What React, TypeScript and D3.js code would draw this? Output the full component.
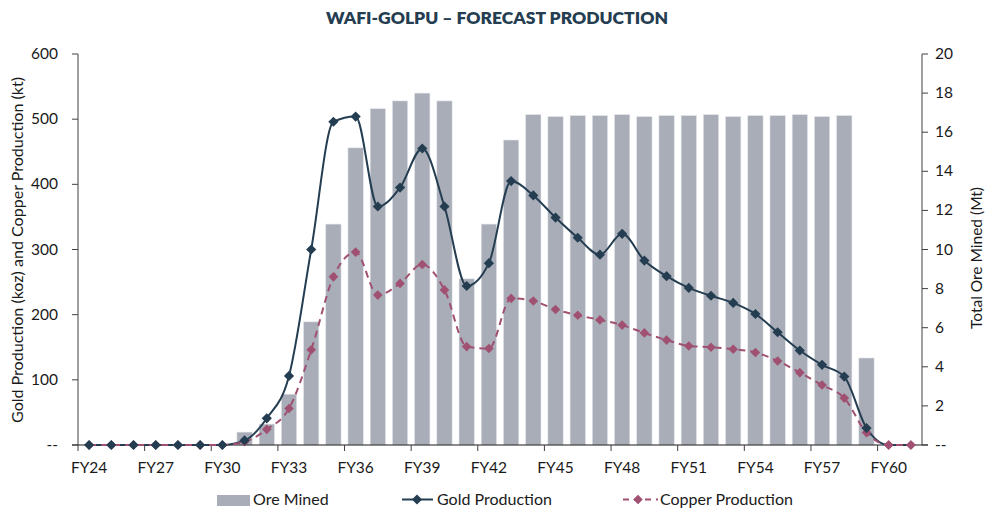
import React from "react";
import * as d3 from "d3";

const categories: string[] = Array.from({ length: 38 }, (_, i) => `FY${24 + i}`);

const oreMined: number[] = [
  0, 0, 0, 0, 0, 0, 0, 0.66, 1.07, 2.6, 6.3, 11.3, 15.2, 17.2, 17.6, 18.0, 17.6, 8.5, 11.3, 15.6,
  16.9, 16.8, 16.85, 16.85, 16.9, 16.8, 16.85, 16.85, 16.9, 16.8, 16.85, 16.85, 16.9, 16.8, 16.85, 4.45, 0, 0,
];

const goldProduction: number[] = [
  0, 0, 0, 0, 0, 0, 0, 7, 41, 106, 300, 496, 504, 366, 395, 455, 366, 244, 279, 405,
  383, 349, 318, 292, 324, 283, 259, 241, 229, 218, 201, 173, 145, 123, 105, 26, 0, 0,
];

const copperProduction: number[] = [
  0, 0, 0, 0, 0, 0, 0, 5, 24, 56, 146, 258, 296, 230, 248, 277, 238, 151, 148, 225,
  221, 208, 199, 192, 184, 172, 161, 152, 150, 147, 142, 129, 111, 92, 72, 19, 0, 0,
];

const leftTicks: number[] = [0, 100, 200, 300, 400, 500, 600];
const rightTicks: number[] = [0, 2, 4, 6, 8, 10, 12, 14, 16, 18, 20];

const FONT = "Lato, 'Open Sans', 'Noto Sans', sans-serif";
const GOLD = "#243d51";
const COPPER = "#a05172";
const BAR = "#a8adb8";
const TEXT = "#1a1a1a";

export default function App() {
  const W = 985;
  const H = 510;
  const left = 78;
  const right = 922;
  const top = 54;
  const bottom = 445;

  const x = d3.scaleBand<string>().domain(categories).range([left, right]).paddingInner(0.31).paddingOuter(0.155);
  const step = x.step();
  const yL = d3.scaleLinear().domain([0, 600]).range([bottom, top]);
  const yR = d3.scaleLinear().domain([0, 20]).range([bottom, top]);
  const cx = (i: number) => (x(categories[i]) as number) + x.bandwidth() / 2;

  const goldLine = d3
    .line<number>()
    .x((_, i) => cx(i))
    .y((d) => yL(d))
    .curve(d3.curveMonotoneX);
  const copperLine = d3
    .line<number>()
    .x((_, i) => cx(i))
    .y((d) => yL(d))
    .curve(d3.curveMonotoneX);

  const diamond = d3.symbol(d3.symbolSquare, 52)() as string;
  const diamondSmall = d3.symbol(d3.symbolSquare, 46)() as string;

  const tickIdx = categories.map((_, i) => i).filter((i) => i % 3 === 0);
  const boundary = (i: number) => (x(categories[i]) as number) - (step - x.bandwidth()) / 2;

  return (
    <svg width={W} height={H} style={{ position: "absolute", left: 0, top: 0, background: "#fff" }} fontFamily={FONT}>
      <text x={497} y={24} textAnchor="middle" fontSize={17} fontWeight={800} fill={GOLD} textLength={342} lengthAdjust="spacingAndGlyphs">
        WAFI-GOLPU – FORECAST PRODUCTION
      </text>

      {/* bars */}
      {oreMined.map((v, i) =>
        v > 0 ? (
          <rect key={"b" + i} x={x(categories[i])} y={yR(v)} width={x.bandwidth()} height={yR(0) - yR(v)} fill={BAR} stroke="#e3e5ea" strokeWidth={0.6} />
        ) : null
      )}

      {/* axes */}
      <line x1={left} x2={left} y1={top} y2={bottom} stroke="#404040" strokeWidth={1} />
      <line x1={right} x2={right} y1={top} y2={bottom} stroke="#404040" strokeWidth={1} />
      <line x1={left - 6} x2={right + 6} y1={bottom} y2={bottom} stroke="#1a1a1a" strokeWidth={1.2} />

      {leftTicks.map((t) => (
        <g key={"lt" + t}>
          <line x1={left - 6} x2={left} y1={yL(t)} y2={yL(t)} stroke="#404040" />
          <text x={left - 20} y={yL(t) + 5} textAnchor="end" fontSize={15.5} fill={TEXT}>
            {t === 0 ? "--" : t}
          </text>
        </g>
      ))}
      {rightTicks.map((t) => (
        <g key={"rt" + t}>
          <line x1={right} x2={right + 6} y1={yR(t)} y2={yR(t)} stroke="#404040" />
          <text x={right + 13} y={yR(t) + 5} textAnchor="start" fontSize={15.5} fill={TEXT}>
            {t === 0 ? "--" : t}
          </text>
        </g>
      ))}

      {tickIdx.map((i) => (
        <g key={"xt" + i}>
          <line x1={boundary(i)} x2={boundary(i)} y1={bottom} y2={bottom + 6} stroke="#404040" />
          <text x={cx(i)} y={473} textAnchor="middle" fontSize={15.5} fill={TEXT}>
            {categories[i]}
          </text>
        </g>
      ))}

      <text transform={`translate(23,250) rotate(-90)`} textAnchor="middle" fontSize={15} fill={TEXT} textLength={346} lengthAdjust="spacingAndGlyphs">
        Gold Production (koz) and Copper Production (kt)
      </text>
      <text transform={`translate(982,258) rotate(-90)`} textAnchor="middle" fontSize={15.5} fill={TEXT}>
        Total Ore Mined (Mt)
      </text>

      {/* lines */}
      <path d={goldLine(goldProduction) as string} fill="none" stroke={GOLD} strokeWidth={2} />
      <path d={copperLine(copperProduction) as string} fill="none" stroke={COPPER} strokeWidth={2} strokeDasharray="7,5" />
      {copperProduction.map((v, i) => (
        <path key={"cm" + i} d={diamondSmall} transform={`translate(${cx(i)},${yL(v)}) rotate(45)`} fill={COPPER} />
      ))}
      {goldProduction.map((v, i) =>
        i < 36 ? <path key={"gm" + i} d={diamond} transform={`translate(${cx(i)},${yL(v)}) rotate(45)`} fill={GOLD} /> : null
      )}
      {copperProduction.map((v, i) =>
        i >= 36 ? <path key={"cm2" + i} d={diamondSmall} transform={`translate(${cx(i)},${yL(v)}) rotate(45)`} fill={COPPER} /> : null
      )}

      {/* legend */}
      <rect x={217} y={495} width={33} height={11} fill={BAR} />
      <text x={253} y={505} fontSize={16} fill={TEXT}>Ore Mined</text>
      <line x1={402} x2={433} y1={499.5} y2={499.5} stroke={GOLD} strokeWidth={2} />
      <path d={diamond} transform="translate(417,499.5) rotate(45)" fill={GOLD} />
      <text x={437} y={505} fontSize={16} fill={TEXT}>Gold Production</text>
      <line x1={623} x2={658} y1={499.5} y2={499.5} stroke={COPPER} strokeWidth={2} strokeDasharray="6,5" />
      <path d={diamondSmall} transform="translate(638,499.5) rotate(45)" fill={COPPER} />
      <text x={660} y={505} fontSize={16} fill={TEXT}>Copper Production</text>
    </svg>
  );
}
